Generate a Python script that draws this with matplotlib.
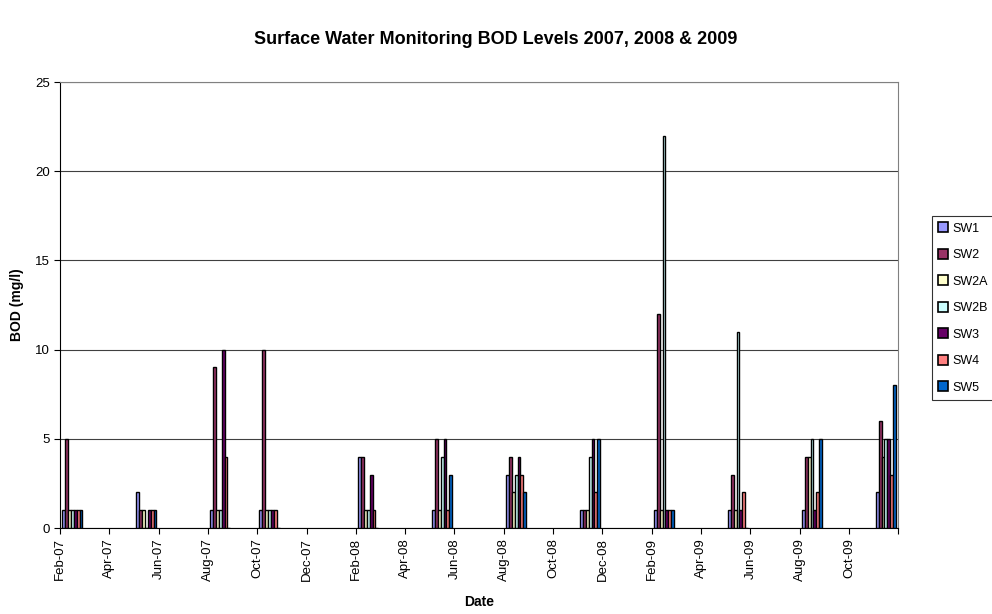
import numpy as np
import pandas as pd
import matplotlib.pyplot as plt
from matplotlib.patches import Patch

plt.rcParams['font.family'] = ['Liberation Sans', 'DejaVu Sans']

# sampling months (one cluster of bars per month)
sample_months = ["2007-02", "2007-05", "2007-08", "2007-10", "2008-02", "2008-05",
                 "2008-08", "2008-11", "2009-02", "2009-05", "2009-08", "2009-11"]

series_names = ["SW1", "SW2", "SW2A", "SW2B", "SW3", "SW4", "SW5"]
sw1  = [1, 2, 1, 1, 4, 1, 3, 1, 1, 1, 1, 2]
sw2  = [5, 1, 9, 10, 4, 5, 4, 1, 12, 3, 4, 6]
sw2a = [1, 1, 1, 1, 1, 1, 2, 1, 1, 1, 4, 4]
sw2b = [1, 0, 1, 1, 1, 4, 3, 4, 22, 11, 5, 5]
sw3  = [1, 1, 10, 1, 3, 5, 4, 5, 1, 1, 1, 5]
sw4  = [1, 1, 4, 1, 1, 1, 3, 2, 1, 2, 2, 3]
sw5  = [1, 1, 0, 0, 0, 3, 2, 5, 1, 0, 5, 8]
colors = ["#9999FF", "#993366", "#FFFFCC", "#CCFFFF", "#660066", "#FF8080", "#0066CC"]

tick_labels = ["Feb-07", "Apr-07", "Jun-07", "Aug-07", "Oct-07", "Dec-07",
               "Feb-08", "Apr-08", "Jun-08", "Aug-08", "Oct-08", "Dec-08",
               "Feb-09", "Apr-09", "Jun-09", "Aug-09", "Oct-09", ""]

data = [sw1, sw2, sw2a, sw2b, sw3, sw4, sw5]

# month index counted from Feb-07
dates = pd.to_datetime(sample_months)
month_idx = (dates.year - 2007) * 12 + (dates.month - 2) + 0.5
month_idx = np.array(month_idx, dtype=float)

fig = plt.figure(figsize=(9.92, 6.14), dpi=100)
ax = fig.add_axes([0.0605, 0.140, 0.845, 0.7264])

n = len(series_names)
w = 0.82 / n
for i, (vals, c) in enumerate(zip(data, colors)):
    ax.bar(month_idx + (i - (n - 1) / 2) * w, vals, width=w, color=c,
           edgecolor="black", linewidth=1.0, zorder=3)

ax.set_xlim(0, 34)
ax.set_ylim(0, 25)
ax.set_yticks(range(0, 26, 5))
ax.set_xticks(range(0, 35, 2))
ax.set_xticklabels(tick_labels, rotation=90, fontsize=9.5)
ax.tick_params(axis="y", labelsize=9.5, length=4, direction="out")
ax.tick_params(axis="x", length=4, direction="out")
ax.yaxis.grid(True, color="#404040", linewidth=0.8, zorder=0)

for s in ["top", "right"]:
    ax.spines[s].set_color("#808080")
ax.spines["left"].set_color("black")
ax.spines["bottom"].set_color("black")

ax.set_ylabel("BOD (mg/l)", fontsize=10, fontweight="bold", labelpad=8)
ax.set_xlabel("Date", fontsize=10, fontweight="bold", labelpad=10)
fig.suptitle("Surface Water Monitoring BOD Levels 2007, 2008 & 2009",
             fontsize=13, fontweight="bold", y=0.95)

handles = [Patch(facecolor=c, edgecolor="black", linewidth=1.2) for c in colors]
leg = fig.legend(handles, series_names, loc="center left",
                 bbox_to_anchor=(932 / 992, (614 - 308) / 614),
                 fontsize=9, frameon=True, fancybox=False, handlelength=0.8,
                 handleheight=0.8, handletextpad=0.3, labelspacing=1.15,
                 borderpad=0.5, borderaxespad=0)
leg.get_frame().set_edgecolor("black")
leg.get_frame().set_linewidth(0.8)

fig.savefig("out.png", dpi=100)
